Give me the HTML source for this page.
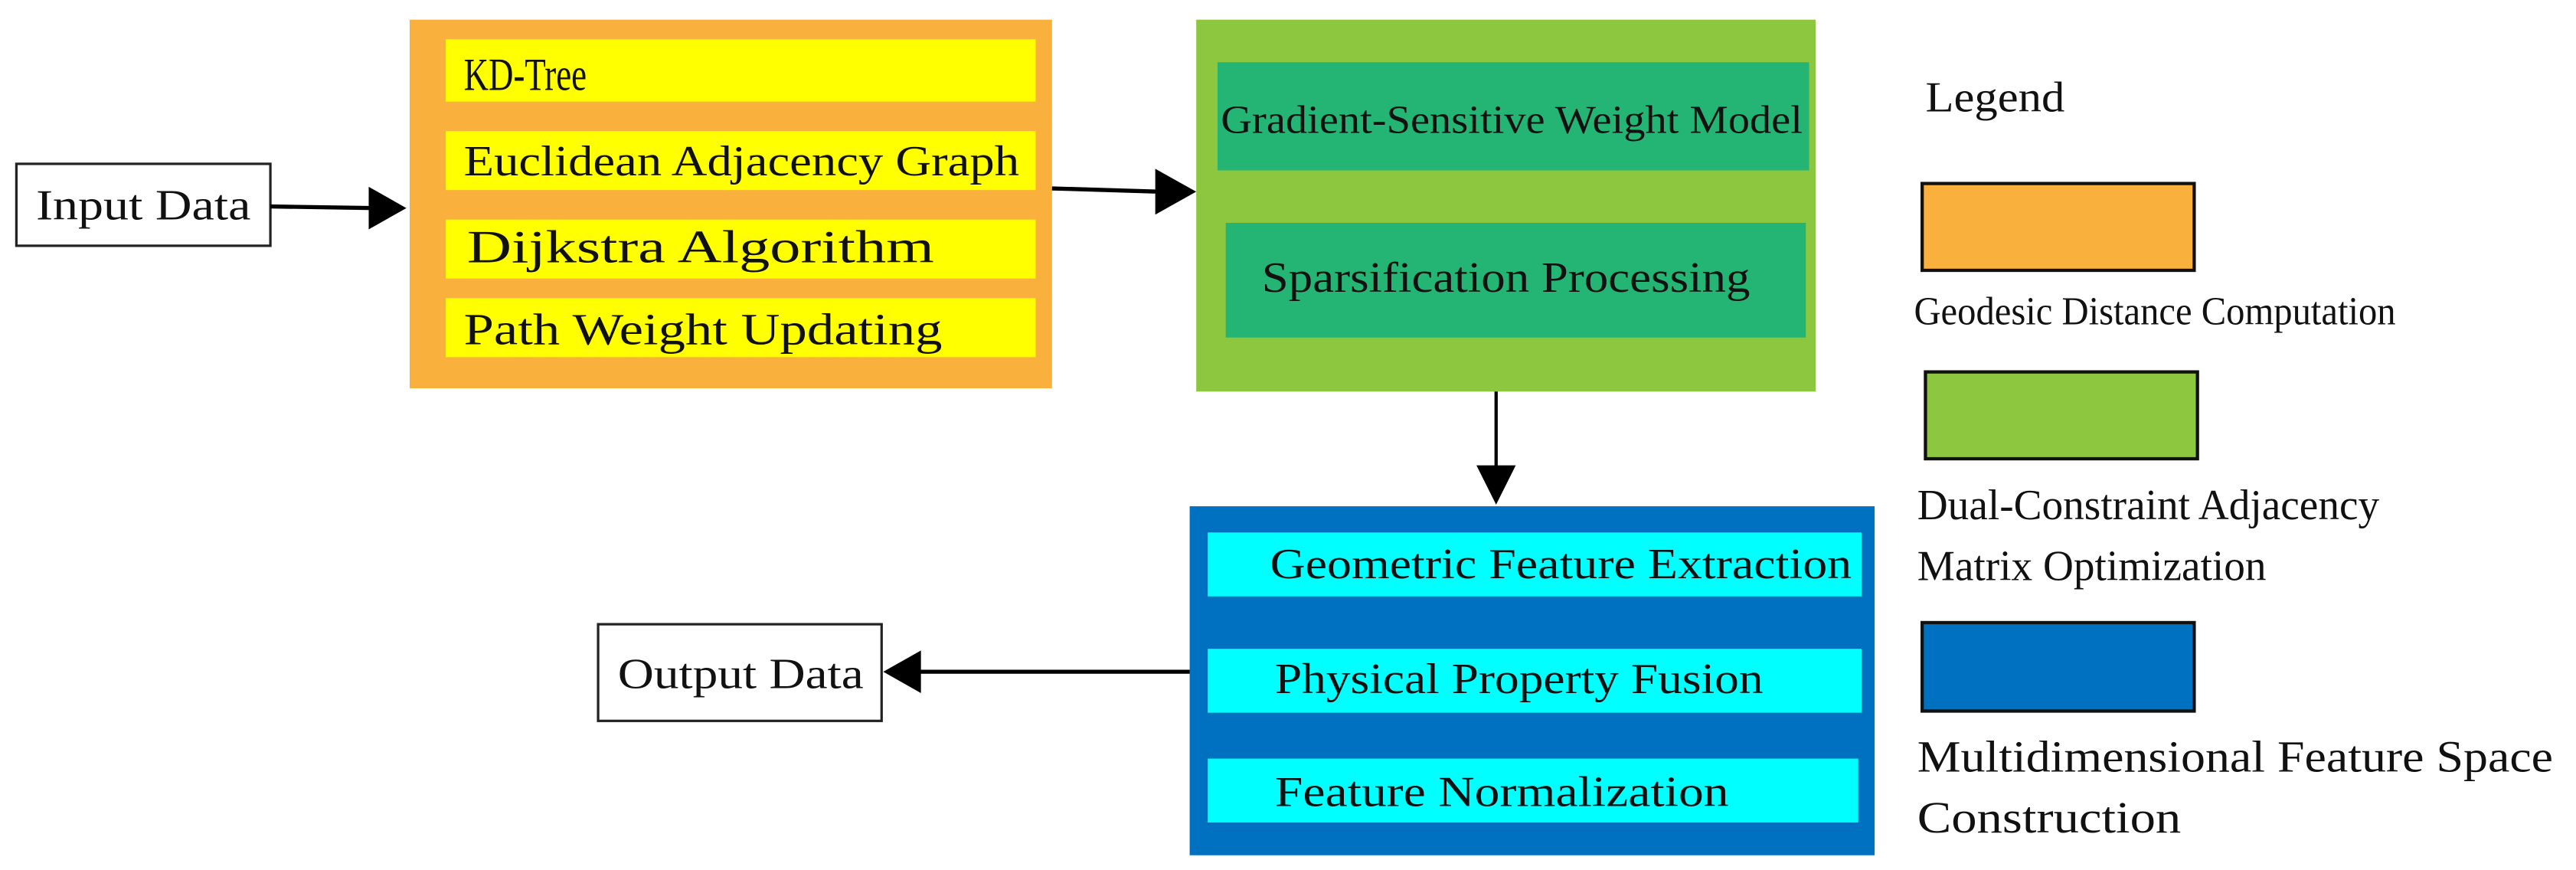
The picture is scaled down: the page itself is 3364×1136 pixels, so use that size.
<!DOCTYPE html>
<html><head><meta charset="utf-8"><style>
html,body{margin:0;padding:0;background:#fff;}
svg{display:block;}
text{font-family:"Liberation Serif",serif;fill:#111;}
</style></head><body>
<svg width="3364" height="1136" viewBox="0 0 1572 531" preserveAspectRatio="none" xmlns="http://www.w3.org/2000/svg">
<!-- Input box -->
<rect x="10" y="100" width="155" height="50" fill="#fff" stroke="#222" stroke-width="1.5"/>
<text x="22" y="134" font-size="26" textLength="131" lengthAdjust="spacingAndGlyphs">Input Data</text>
<line x1="165" y1="126" x2="228" y2="127" stroke="#000" stroke-width="2.5"/>
<path d="M225,114 L248,127 L225,140 Z" fill="#000"/>

<!-- Orange box -->
<rect x="250" y="12" width="392" height="225" fill="#f9b03c"/>
<rect x="272" y="24" width="360" height="38" fill="#ffff00"/>
<rect x="272" y="80" width="360" height="36" fill="#ffff00"/>
<rect x="272" y="134" width="360" height="36" fill="#ffff00"/>
<rect x="272" y="182" width="360" height="36" fill="#ffff00"/>
<text x="283" y="55" font-size="28" textLength="75" lengthAdjust="spacingAndGlyphs">KD-Tree</text>
<text x="283" y="107" font-size="26" textLength="339" lengthAdjust="spacingAndGlyphs">Euclidean Adjacency Graph</text>
<text x="285" y="160" font-size="28" textLength="285" lengthAdjust="spacingAndGlyphs">Dijkstra Algorithm</text>
<text x="283" y="210" font-size="27" textLength="292" lengthAdjust="spacingAndGlyphs">Path Weight Updating</text>

<line x1="642" y1="115" x2="708" y2="117" stroke="#000" stroke-width="2.5"/>
<path d="M705,103 L730,117 L705,131 Z" fill="#000"/>

<!-- Green box -->
<rect x="730" y="12" width="378" height="227" fill="#8dc63f"/>
<rect x="743" y="38" width="361" height="66" fill="#24b574"/>
<rect x="748" y="136" width="354" height="70" fill="#24b574"/>
<text x="745" y="81" font-size="24" textLength="355" lengthAdjust="spacingAndGlyphs">Gradient-Sensitive Weight Model</text>
<text x="770" y="178" font-size="26" textLength="298" lengthAdjust="spacingAndGlyphs">Sparsification Processing</text>

<line x1="913" y1="239" x2="913" y2="287" stroke="#000" stroke-width="2"/>
<path d="M901,284 L913,308 L925,284 Z" fill="#000"/>

<!-- Blue box -->
<rect x="726" y="309" width="418" height="213" fill="#0070c0"/>
<rect x="737" y="325" width="399" height="39" fill="#00ffff"/>
<rect x="737" y="396" width="399" height="39" fill="#00ffff"/>
<rect x="737" y="463" width="397" height="39" fill="#00ffff"/>
<text x="775" y="353" font-size="26" textLength="355" lengthAdjust="spacingAndGlyphs">Geometric Feature Extraction</text>
<text x="778" y="423" font-size="26" textLength="298" lengthAdjust="spacingAndGlyphs">Physical Property Fusion</text>
<text x="778" y="492" font-size="26" textLength="277" lengthAdjust="spacingAndGlyphs">Feature Normalization</text>

<!-- Output -->
<line x1="726" y1="410" x2="560" y2="410" stroke="#000" stroke-width="2.5"/>
<path d="M562,397 L539,410 L562,423 Z" fill="#000"/>
<rect x="365" y="381" width="173" height="59" fill="#fff" stroke="#222" stroke-width="1.5"/>
<text x="377" y="420" font-size="26" textLength="150" lengthAdjust="spacingAndGlyphs">Output Data</text>

<!-- Legend -->
<text x="1175" y="68" font-size="26" textLength="85" lengthAdjust="spacingAndGlyphs">Legend</text>
<rect x="1173" y="112" width="166" height="53" fill="#f9b03c" stroke="#111" stroke-width="2"/>
<text x="1168" y="198" font-size="24" textLength="294" lengthAdjust="spacingAndGlyphs">Geodesic Distance Computation</text>
<rect x="1175" y="227" width="166" height="53" fill="#8dc63f" stroke="#111" stroke-width="2"/>
<text x="1170" y="317" font-size="26" textLength="282" lengthAdjust="spacingAndGlyphs">Dual-Constraint Adjacency</text>
<text x="1170" y="354" font-size="26" textLength="213" lengthAdjust="spacingAndGlyphs">Matrix Optimization</text>
<rect x="1173" y="380" width="166" height="54" fill="#0070c0" stroke="#111" stroke-width="2"/>
<text x="1170" y="471" font-size="27" textLength="388" lengthAdjust="spacingAndGlyphs">Multidimensional Feature Space</text>
<text x="1170" y="508" font-size="27" textLength="161" lengthAdjust="spacingAndGlyphs">Construction</text>
</svg>
</body></html>
